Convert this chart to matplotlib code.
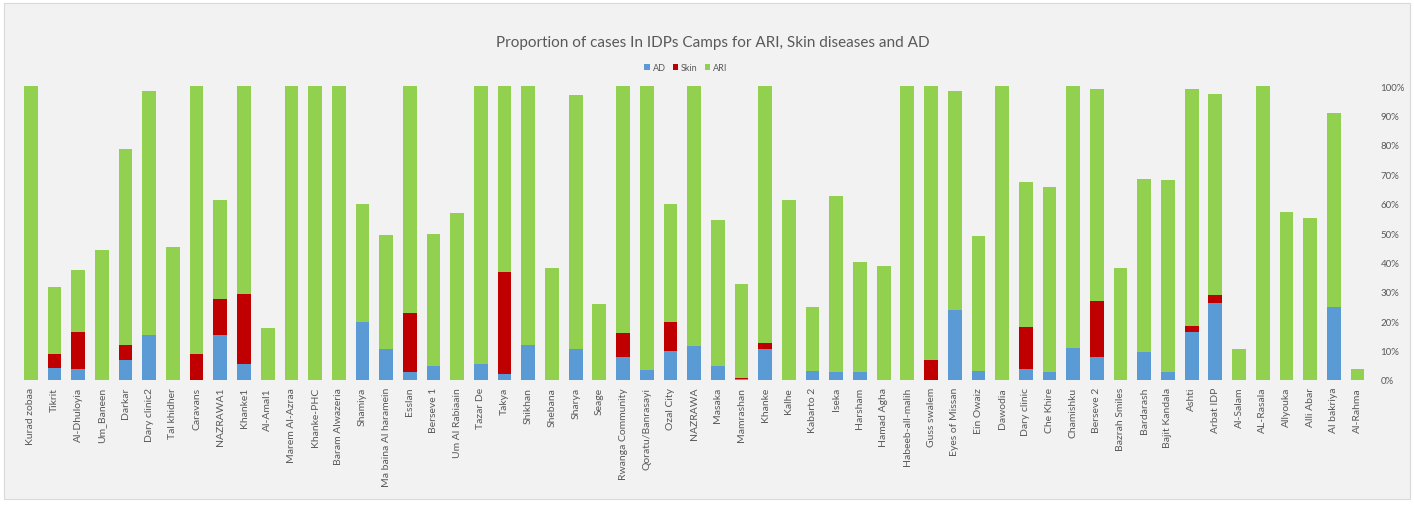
import numpy as np
import matplotlib.pyplot as plt
from matplotlib.patches import Rectangle
from matplotlib.ticker import PercentFormatter

plt.rcParams['font.family'] = ['Lato', 'DejaVu Sans']

camps = [
    "Kurad zobaa", "Tikrit", "Al-Dhuloyia", "Um_Baneen", "Darkar", "Dary clinic2",
    "Tal khidher", "Caravans", "NAZRAWA1", "Khanke1", "Al-Amal1", "Marem Al-Azraa",
    "Khanke-PHC", "Baram Alwazeria", "Shamiya", "Ma baina Al haramein", "Esslan",
    "Berseve 1", "Um Al Rabiaain", "Tazar De", "Takya", "Shikhan", "Shebana",
    "Sharya", "Seage", "Rwanga Community", "Qoratu/Banrasayi", "Ozal City",
    "NAZRAWA", "Masaka", "Mamrashan", "Khanke", "Kalhe", "Kabarto 2", "Iseka",
    "Harsham", "Hamad Agha", "Habeeb-all-malih", "Guss swalem", "Eyes of Missan",
    "Ein Owaiz", "Dawodia", "Dary clinic", "Che Khire", "Chamishku", "Berseve 2",
    "Bazrah Smiles", "Bardarash", "Bajit Kandala", "Ashti", "Arbat IDP", "Al-Salam",
    "AL-Rasala", "Allyouka", "Alli Abar", "Al bakriya", "Al-Rahma",
]

# proportions in %
ad = [0, 4.2, 3.7, 0, 6.8, 15.4, 0, 0, 15.2, 5.5, 0, 0, 0, 0, 19.7, 10.7, 2.8,
      4.8, 0, 5.4, 2.1, 11.8, 0, 10.7, 0, 7.8, 3.5, 9.8, 11.6, 4.6, 0.2, 10.5,
      0, 3.0, 2.8, 2.6, 0, 0, 0, 23.9, 3.2, 0, 3.8, 2.6, 10.9, 7.7, 0, 9.6, 2.6,
      16.3, 26.3, 0, 0, 0, 0, 24.7, 0]
skin = [0, 4.6, 12.6, 0, 5.0, 0, 0, 9.0, 12.4, 23.8, 0, 0, 0, 0, 0, 0, 19.9,
        0, 0, 0, 34.5, 0, 0, 0, 0, 8.2, 0, 9.9, 0, 0, 0.6, 2.0,
        0, 0, 0, 0, 0, 0, 6.7, 0, 0, 0, 14.4, 0, 0, 19.1, 0, 0, 0,
        2.2, 2.7, 0, 0, 0, 0, 0, 0]
ari = [100, 22.8, 21.2, 44.4, 66.8, 82.9, 45.1, 91.0, 33.8, 70.7, 17.7, 100, 100,
       100, 40.1, 38.6, 77.3, 44.8, 56.9, 94.6, 63.4, 88.2, 38.2, 86.3, 25.9,
       84.0, 96.5, 40.1, 88.4, 49.9, 31.8, 87.5, 61.4, 21.9, 59.8, 37.4, 38.9,
       100, 93.3, 74.4, 45.8, 100, 49.1, 63.0, 89.1, 72.4, 38.2, 58.8, 65.4,
       80.7, 68.5, 10.7, 100, 57.2, 55.2, 66.3, 3.7]

c_ad, c_skin, c_ari = '#5B9BD5', '#C00000', '#92D050'
bg = '#F2F2F2'
txt = '#595959'

fig = plt.figure(figsize=(14.14, 5.10), dpi=100)
fig.patch.set_facecolor('white')
# chart area box behind everything
fig.patches.append(Rectangle((0.003, 0.02), 0.994, 0.972, transform=fig.transFigure,
                             facecolor=bg, edgecolor='#D9D9D9', linewidth=0.8, zorder=-5))

ax = fig.add_axes([0.0134, 0.253, 0.955, 0.576])
ax.set_facecolor(bg)

x = np.arange(len(camps))
ad_a = np.array(ad)
skin_a = np.array(skin)
ari_a = np.array(ari)
ax.bar(x, ad_a, width=0.58, color=c_ad, label='AD')
ax.bar(x, skin_a, width=0.58, bottom=ad_a, color=c_skin, label='Skin')
ax.bar(x, ari_a, width=0.58, bottom=ad_a + skin_a, color=c_ari, label='ARI')

ax.set_xlim(-0.5, len(camps) - 0.5)
ax.set_ylim(0, 100)
ax.set_yticks(np.arange(0, 101, 10))
ax.yaxis.set_major_formatter(PercentFormatter(decimals=0))
ax.yaxis.tick_right()
ax.tick_params(axis='y', length=0, labelsize=7, labelcolor=txt, pad=8)
ax.set_xticks(x)
ax.set_xticklabels(camps, rotation=90, fontsize=7.5, color=txt)
ax.tick_params(axis='x', length=0, pad=5)
for s in ax.spines.values():
    s.set_visible(False)

fig.text(0.504, 0.915, "Proportion of cases In IDPs Camps for ARI, Skin diseases and AD",
         ha='center', va='center', fontsize=11, color=txt)
fig.legend(loc='center', bbox_to_anchor=(0.485, 0.866), ncol=3, frameon=False,
           fontsize=6.5, handlelength=0.6, handleheight=0.6, handletextpad=0.3,
           columnspacing=0.8, labelcolor=txt)

fig.savefig('out.png', dpi=100, facecolor=fig.get_facecolor())
